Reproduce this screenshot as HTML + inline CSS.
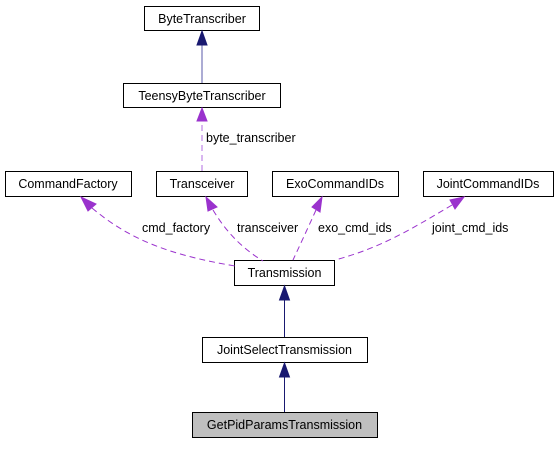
<!DOCTYPE html>
<html><head><meta charset="utf-8"><style>
html,body{margin:0;padding:0;background:#fff;}
svg text{font-family:"Liberation Sans",Helvetica,Arial,sans-serif;font-size:12.5px;fill:#000;}
</style></head><body>
<svg width="559" height="444" viewBox="0 0 559 444" xmlns="http://www.w3.org/2000/svg">
<g fill="#fff" stroke="#000" stroke-width="1">
<rect x="144.5" y="6.5" width="115" height="24"/>
<rect x="123.5" y="83.5" width="157" height="24"/>
<rect x="5.5" y="171.5" width="126" height="25"/>
<rect x="156.5" y="171.5" width="91" height="25"/>
<rect x="272.5" y="171.5" width="126" height="25"/>
<rect x="423.5" y="171.5" width="130" height="25"/>
<rect x="234.5" y="260.5" width="100" height="25"/>
<rect x="202.5" y="337.5" width="165" height="25"/>
<rect x="192.5" y="412.5" width="185" height="25" fill="#bfbfbf"/>
</g>
<g text-anchor="middle">
<text x="202" y="23">ByteTranscriber</text>
<text x="202" y="100">TeensyByteTranscriber</text>
<text x="68" y="188">CommandFactory</text>
<text x="202" y="188">Transceiver</text>
<text x="335" y="188">ExoCommandIDs</text>
<text x="488" y="188">JointCommandIDs</text>
<text x="284.5" y="277">Transmission</text>
<text x="284.5" y="354">JointSelectTransmission</text>
<text x="284.5" y="429">GetPidParamsTransmission</text>
</g>
<g stroke="#191970" stroke-width="1" fill="#191970">
<line x1="202" y1="83" x2="202" y2="44" stroke="#5a5aa8"/>
<polygon points="202,31 197,45 207,45"/>
<line x1="284.5" y1="337" x2="284.5" y2="299"/>
<polygon points="284.5,286 279.5,300 289.5,300"/>
<line x1="284.5" y1="412" x2="284.5" y2="376"/>
<polygon points="284.5,363 279.5,377 289.5,377"/>
</g>
<g stroke="#9a32cd" stroke-width="1" fill="none" stroke-dasharray="6,4">
<line x1="202" y1="171" x2="202" y2="121" stroke="#b06ee0"/>
<path d="M92,208 C130,240 170,255 235,266"/>
<path d="M213,210 C228,235 245,250 263,261"/>
<path d="M316,210 C307,230 300,245 293,260"/>
<path d="M452,205 C410,230 380,248 335,260"/>
</g>
<g fill="#9a32cd" stroke="#9a32cd">
<polygon points="202,108 197,121 207,121"/>
<polygon points="81,197 88,211 96,204"/>
<polygon points="206,197 208,211 217,207"/>
<polygon points="322,197 312,207 320,212"/>
<polygon points="464,197 450,200 455,209"/>
</g>
<text x="206" y="142">byte_transcriber</text>
<text x="142" y="232">cmd_factory</text>
<text x="237" y="232">transceiver</text>
<text x="318" y="232">exo_cmd_ids</text>
<text x="432" y="232">joint_cmd_ids</text>
</svg>
</body></html>
